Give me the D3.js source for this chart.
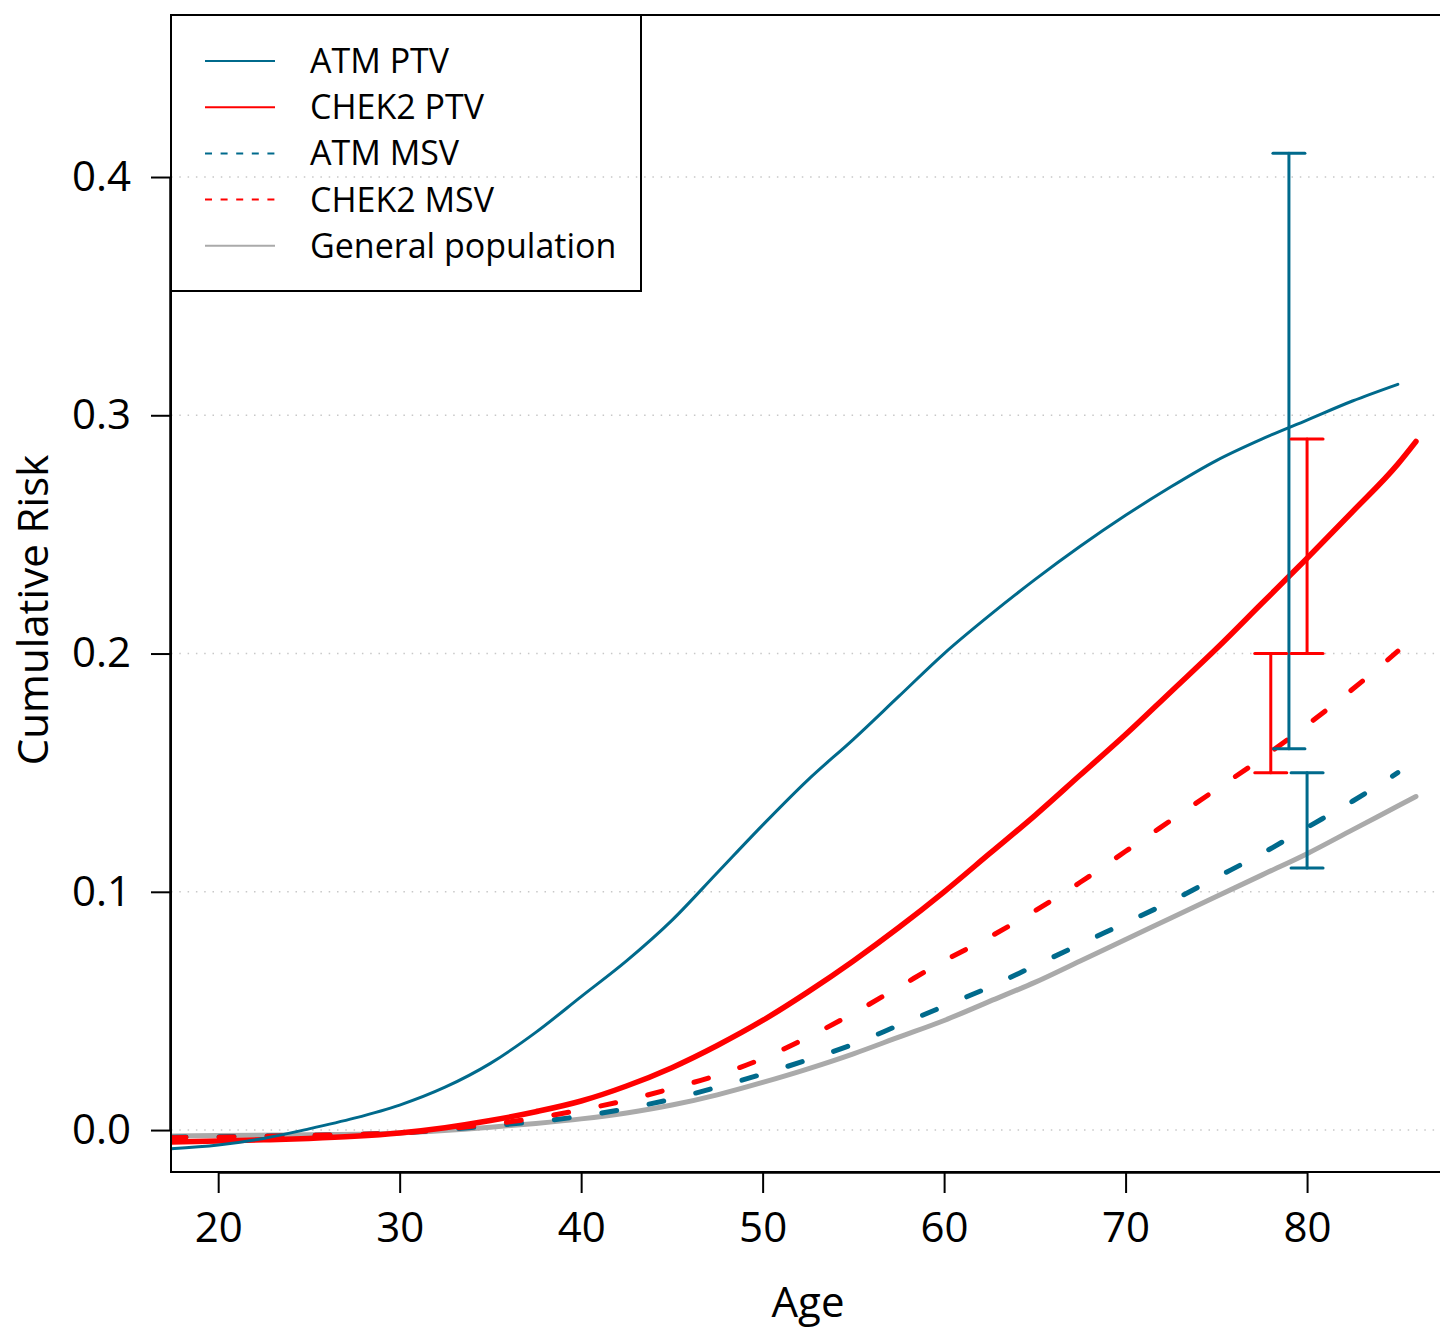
<!DOCTYPE html>
<html>
<head>
<meta charset="utf-8">
<script src="https://cdn.jsdelivr.net/npm/d3@7"></script>
<style>
  html, body { margin: 0; padding: 0; background: #fff; }
  svg { display: block; }
  text { font-family: "Open Sans", "Noto Sans", sans-serif; fill: #000; }
</style>
</head>
<body>
<svg id="chart" width="1440" height="1330"></svg>
<script>
// ---------------- data ----------------
const xTicks = [20, 30, 40, 50, 60, 70, 80];
const yTicks = [0.0, 0.1, 0.2, 0.3, 0.4];
const yTickLabels = ["0.0", "0.1", "0.2", "0.3", "0.4"];

const atmPtvAge = [17.4, 20, 22.5, 25, 27.5, 30, 32.5, 35, 37.5, 40, 42.5, 45, 47.5, 50, 52.5, 55, 57.5, 60, 62.5, 65, 67.5, 70, 72.5, 75, 77.5, 80, 82.5, 85];
const atmPtvRisk = [-0.0078, -0.0063, -0.0035, 0.0005, 0.005, 0.0105, 0.018, 0.028, 0.041, 0.056, 0.071, 0.088, 0.108, 0.128, 0.147, 0.164, 0.182, 0.200, 0.216, 0.231, 0.245, 0.258, 0.270, 0.281, 0.290, 0.298, 0.306, 0.313];

const chek2PtvAge = [17.4, 20, 22.5, 25, 27.5, 30, 32.5, 35, 37.5, 40, 42.5, 45, 47.5, 50, 52.5, 55, 57.5, 60, 62.5, 65, 67.5, 70, 72.5, 75, 77.5, 80, 82.5, 85, 86];
const chek2PtvRisk = [-0.005, -0.0046, -0.0041, -0.0035, -0.0026, -0.0012, 0.001, 0.004, 0.0077, 0.0122, 0.0185, 0.0262, 0.0355, 0.046, 0.058, 0.071, 0.085, 0.100, 0.116, 0.132, 0.149, 0.166, 0.184, 0.202, 0.221, 0.240, 0.2595, 0.2795, 0.289];

const atmMsvAge = [17.4, 20, 25, 30, 35, 37.5, 40, 42.5, 45, 47.5, 50, 52.5, 55, 57.5, 60, 62.5, 65, 67.5, 70, 72.5, 75, 77.5, 80, 82.5, 85];
const atmMsvRisk = [-0.003, -0.0028, -0.0022, -0.0012, 0.0018, 0.0035, 0.0058, 0.009, 0.013, 0.018, 0.0235, 0.0295, 0.036, 0.044, 0.052, 0.060, 0.069, 0.078, 0.087, 0.096, 0.106, 0.116, 0.127, 0.138, 0.150];

const chek2MsvAge = [17.4, 20, 25, 30, 35, 37.5, 40, 42.5, 45, 47.5, 50, 52.5, 55, 57.5, 60, 62.5, 65, 67.5, 70, 72.5, 75, 77.5, 80, 82.5, 85];
const chek2MsvRisk = [-0.0032, -0.003, -0.0022, -0.0012, 0.0025, 0.005, 0.0085, 0.0125, 0.0175, 0.023, 0.030, 0.039, 0.049, 0.060, 0.071, 0.081, 0.092, 0.104, 0.117, 0.130, 0.143, 0.156, 0.170, 0.185, 0.201];

const genPopAge = [17.4, 20, 25, 30, 35, 37.5, 40, 42.5, 45, 47.5, 50, 52.5, 55, 57.5, 60, 62.5, 65, 67.5, 70, 72.5, 75, 77.5, 80, 82.5, 85, 86];
const genPopRisk = [-0.0025, -0.0023, -0.002, -0.0012, 0.0012, 0.0028, 0.0047, 0.0072, 0.0105, 0.0148, 0.020, 0.0257, 0.032, 0.039, 0.046, 0.054, 0.062, 0.071, 0.080, 0.089, 0.098, 0.107, 0.116, 0.126, 0.136, 0.140];

// error bars
const ciAge = [79, 80, 78, 80];
const ciLow = [0.16, 0.20, 0.15, 0.11];
const ciHigh = [0.41, 0.29, 0.20, 0.15];
const ciSeries = ["ATM PTV", "CHEK2 PTV", "CHEK2 MSV", "ATM MSV"];

const seriesNames = ["ATM PTV", "CHEK2 PTV", "ATM MSV", "CHEK2 MSV", "General population"];

// ---------------- styles ----------------
const TEAL = "#006a8c", RED = "#ff0000", GREY = "#aaaaaa";
const style = {
  "ATM PTV":            { color: TEAL, width: 3,   dash: null },
  "CHEK2 PTV":          { color: RED,  width: 5.5, dash: null },
  "ATM MSV":            { color: TEAL, width: 5,   dash: "15 33" },
  "CHEK2 MSV":          { color: RED,  width: 5,   dash: "15 33" },
  "General population": { color: GREY, width: 5,   dash: null }
};

const seriesData = {
  "ATM PTV": atmPtvAge.map((a, i) => [a, atmPtvRisk[i]]),
  "CHEK2 PTV": chek2PtvAge.map((a, i) => [a, chek2PtvRisk[i]]),
  "ATM MSV": atmMsvAge.map((a, i) => [a, atmMsvRisk[i]]),
  "CHEK2 MSV": chek2MsvAge.map((a, i) => [a, chek2MsvRisk[i]]),
  "General population": genPopAge.map((a, i) => [a, genPopRisk[i]])
};

// ---------------- layout ----------------
const svg = d3.select("#chart");
const plot = { left: 171, right: 1445, top: 15, bottom: 1172 };
const x = d3.scaleLinear().domain([17.4, 87.6]).range([plot.left, plot.right]);
const y = d3.scaleLinear().domain([-0.0176, 0.468]).range([plot.bottom, plot.top]);

svg.append("defs").append("clipPath").attr("id", "clip")
  .append("rect").attr("x", plot.left).attr("y", plot.top)
  .attr("width", plot.right - plot.left).attr("height", plot.bottom - plot.top);

// grid lines (dotted)
svg.append("g").selectAll("line").data(yTicks).join("line")
  .attr("x1", plot.left).attr("x2", plot.right)
  .attr("y1", d => y(d)).attr("y2", d => y(d))
  .attr("stroke", "#c8c8c8").attr("stroke-width", 1.5)
  .attr("stroke-dasharray", "1.5 6.8");

// curves
const line = d3.line().x(d => x(d[0])).y(d => y(d[1])).curve(d3.curveMonotoneX);
const drawOrder = ["General population", "ATM MSV", "CHEK2 MSV", "CHEK2 PTV", "ATM PTV"];
const gLines = svg.append("g").attr("clip-path", "url(#clip)");
drawOrder.forEach(name => {
  const s = style[name];
  gLines.append("path")
    .datum(seriesData[name])
    .attr("d", line)
    .attr("fill", "none")
    .attr("stroke", s.color)
    .attr("stroke-width", s.width)
    .attr("stroke-linecap", "round")
    .attr("stroke-linejoin", "round")
    .attr("stroke-dasharray", s.dash);
});

// error bars
const capHalf = 16;
const gErr = svg.append("g");
ciAge.forEach((a, i) => {
  const col = style[ciSeries[i]].color;
  const g = gErr.append("g").attr("stroke", col).attr("stroke-width", 3).attr("stroke-linecap", "round");
  g.append("line").attr("x1", x(a)).attr("x2", x(a)).attr("y1", y(ciLow[i])).attr("y2", y(ciHigh[i]));
  g.append("line").attr("x1", x(a) - capHalf).attr("x2", x(a) + capHalf).attr("y1", y(ciLow[i])).attr("y2", y(ciLow[i]));
  g.append("line").attr("x1", x(a) - capHalf).attr("x2", x(a) + capHalf).attr("y1", y(ciHigh[i])).attr("y2", y(ciHigh[i]));
});

// box
svg.append("rect").attr("x", plot.left).attr("y", plot.top)
  .attr("width", plot.right - plot.left).attr("height", plot.bottom - plot.top)
  .attr("fill", "none").attr("stroke", "#000").attr("stroke-width", 2);

// axes
const xAxis = d3.axisBottom(x).tickValues(xTicks).tickSize(21).tickPadding(19).tickFormat(d3.format("d"));
const gx = svg.append("g").attr("transform", `translate(0,${plot.bottom})`).call(xAxis);
gx.select(".domain").attr("d", `M${x(20)},0.5H${x(80)}`).attr("stroke-width", 2.5);
gx.selectAll(".tick line").attr("stroke-width", 2);
gx.selectAll(".tick text").style("font-size", "42px").attr("font-family", null);

const yAxis = d3.axisLeft(y).tickValues(yTicks).tickSize(20).tickPadding(20)
  .tickFormat((d, i) => yTickLabels[i]);
const gy = svg.append("g").attr("transform", `translate(${plot.left},0)`).call(yAxis);
gy.select(".domain").attr("d", `M-0.5,${y(0)}V${y(0.4)}`).attr("stroke-width", 2.5);
gy.selectAll(".tick line").attr("stroke-width", 2);
gy.selectAll(".tick text").style("font-size", "42px").attr("font-family", null);
svg.selectAll(".tick text").attr("fill", "#000");

// axis titles
svg.append("text").attr("x", 808).attr("y", 1317).attr("text-anchor", "middle")
  .style("font-size", "42px").text("Age");
svg.append("text").attr("transform", `translate(48,610) rotate(-90)`).attr("text-anchor", "middle")
  .style("font-size", "42px").text("Cumulative Risk");

// legend (transparent background: grid shows through, as in the reference)
const leg = svg.append("g");
leg.append("rect").attr("x", plot.left).attr("y", plot.top).attr("width", 470).attr("height", 276)
  .attr("fill", "none").attr("stroke", "#000").attr("stroke-width", 2);
const legY0 = 61, legDy = 46.2;
seriesNames.forEach((name, i) => {
  const s = style[name];
  const yy = legY0 + i * legDy;
  leg.append("line").attr("x1", 205).attr("x2", 275).attr("y1", yy).attr("y2", yy)
    .attr("stroke", s.color).attr("stroke-width", 2)
    .attr("stroke-dasharray", s.dash ? "7 8.6" : null);
  leg.append("text").attr("x", 310).attr("y", yy).attr("dy", "0.35em")
    .style("font-size", "34px").text(name);
});
</script>
</body>
</html>
